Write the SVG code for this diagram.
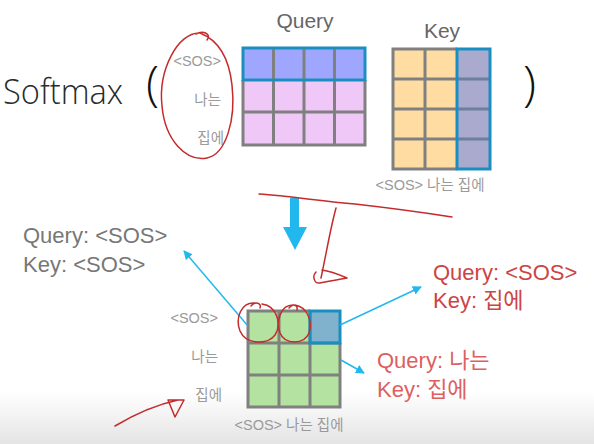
<svg xmlns="http://www.w3.org/2000/svg" width="594" height="444" viewBox="0 0 594 444">
<defs>
<linearGradient id="bg" x1="0" y1="0" x2="0" y2="1">
<stop offset="0" stop-color="#ffffff"/>
<stop offset="1" stop-color="#e4e4e4"/>
</linearGradient>
<marker id="cyanHead" viewBox="0 0 10 10" refX="9" refY="5" markerWidth="9" markerHeight="9" markerUnits="userSpaceOnUse" orient="auto">
<path d="M0,0 L10,5 L0,10 z" fill="#22b8ee"/>
</marker>
<style>
.t{font-family:"Liberation Sans","Noto Sans CJK KR",sans-serif}
.lt{font-family:"Open Sans","Liberation Sans",sans-serif;font-weight:300}
.lbl{font-size:14.5px;fill:#9a9a9a}
.big{font-size:22px}
.grid{fill:none;stroke:#808080;stroke-width:3}
.pink{fill:#efc8f7}
.qh{fill:#9fa6fd}
.org{fill:#fedca2}
.kc{fill:#a9aacd}
.grn{fill:#b4e3a1}
.teal{fill:none;stroke:#1a8fbf;stroke-width:3}
.conn{stroke:#22b8ee;stroke-width:1.5;fill:none;marker-end:url(#cyanHead)}
.red{fill:none;stroke:#c42b2b;stroke-width:1.5;stroke-linecap:round;stroke-linejoin:round}
</style>
</defs>
<rect x="0" y="0" width="594" height="444" fill="#ffffff"/>
<rect x="0" y="392" width="594" height="52" fill="url(#bg)"/>

<g id="softmax">
<text class="lt" x="3" y="104" font-size="34" fill="#2a2a2a" textLength="120" lengthAdjust="spacingAndGlyphs">Softmax</text>
<text class="lt" x="146" y="100" font-size="48" fill="#111">(</text>
<text class="lt" x="523" y="100" font-size="48" fill="#111">)</text>
</g>

<g id="query-matrix">
<text class="t" x="305" y="28" font-size="21" fill="#666" text-anchor="middle">Query</text>
<rect x="243" y="48" width="122" height="32" class="qh"/>
<rect x="243" y="80" width="122" height="65" class="pink"/>
<path class="grid" d="M273.5,48V145M304,48V145M334.5,48V145M243,112H365"/>
<path class="grid" d="M243,80V145H365V80"/>
<rect x="243" y="48" width="122" height="32" class="teal"/>
<text class="t lbl" x="221" y="66" text-anchor="end">&lt;SOS&gt;</text>
<text class="t lbl" x="221" y="105" text-anchor="end">나는</text>
<text class="t lbl" x="224" y="143" text-anchor="end">집에</text>
</g>

<g id="key-matrix">
<text class="t" x="442" y="38" font-size="21" fill="#666" text-anchor="middle">Key</text>
<rect x="393" y="49" width="64" height="120" class="org"/>
<rect x="457" y="49" width="33" height="120" class="kc"/>
<path class="grid" d="M457,169H393V49H457M425,49V169M393,79H457M393,109H457M393,139H457"/>
<path d="M457,79H490M457,109H490M457,139H490" stroke="#6f7fa0" stroke-width="3"/>
<rect x="457" y="49" width="33" height="120" class="teal"/>
<text class="t lbl" x="430" y="190" text-anchor="middle">&lt;SOS&gt; 나는 집에</text>
</g>

<g id="down-arrow">
<path d="M290,198H299V227H307L295,250L283,227H290Z" fill="#22b8ee"/>
</g>

<g id="result-matrix">
<rect x="248" y="311" width="92" height="96" class="grn"/>
<rect x="310" y="311" width="30" height="32" fill="#80b1cd"/>
<path class="grid" d="M279,311V407M310,343V407M248,343H340M248,375H340"/>
<path class="grid" d="M310,311H248V407H340V343"/>
<path class="grid" d="M310,311V343"/>
<rect x="310" y="311" width="30" height="32" class="teal"/>
<text class="t lbl" x="218" y="323" text-anchor="end">&lt;SOS&gt;</text>
<text class="t lbl" x="218" y="362" text-anchor="end">나는</text>
<text class="t lbl" x="222" y="400" text-anchor="end">집에</text>
<text class="t lbl" x="289" y="430" text-anchor="middle">&lt;SOS&gt; 나는 집에</text>
</g>

<g id="connectors">
<path class="conn" d="M248,326L184,251"/>
<path class="conn" d="M340,325L421,287"/>
<path class="conn" d="M341,360L364,373"/>
</g>

<g id="note-sos-sos">
<text class="t big" x="23" y="243" fill="#777">Query: &lt;SOS&gt;</text>
<text class="t big" x="23" y="272" fill="#777">Key: &lt;SOS&gt;</text>
</g>
<g id="note-sos-home">
<text class="t big" x="433" y="280" fill="#cc4444">Query: &lt;SOS&gt;</text>
<text class="t big" x="433" y="308" fill="#cc4444">Key: 집에</text>
</g>
<g id="note-nanun-home">
<text class="t big" x="377" y="368" fill="#dd6060">Query: 나는</text>
<text class="t big" x="377" y="397" fill="#dd6060">Key: 집에</text>
</g>

<g id="annotations">
<path class="red" d="M200,33C178,32 158,70 162,106C165,140 186,162 207,158C226,154 236,120 232,85C229,58 218,40 200,33M196,34C203,30 212,34 207,40"/>
<path class="red" d="M259,194C290,196 320,201 355,204C390,208 420,212 452,217"/>
<path class="red" d="M336,208C330,230 326,255 321,278M316,272C312,276 314,284 320,283C326,282 336,280 347,278C340,275 330,271 322,270"/>
<path class="red" d="M255,303C241,302 235,318 240,331C246,345 268,345 275,335C282,324 277,306 262,304M251,306C255,301 262,303 260,308"/>
<path class="red" d="M293,305C280,305 276,322 280,333C285,345 304,345 309,333C313,321 307,307 295,305M289,308C293,303 298,305 297,310"/>
<path class="red" d="M115,426C135,414 155,405 178,400M168,400H184L175,417Z"/>
</g>
</svg>
